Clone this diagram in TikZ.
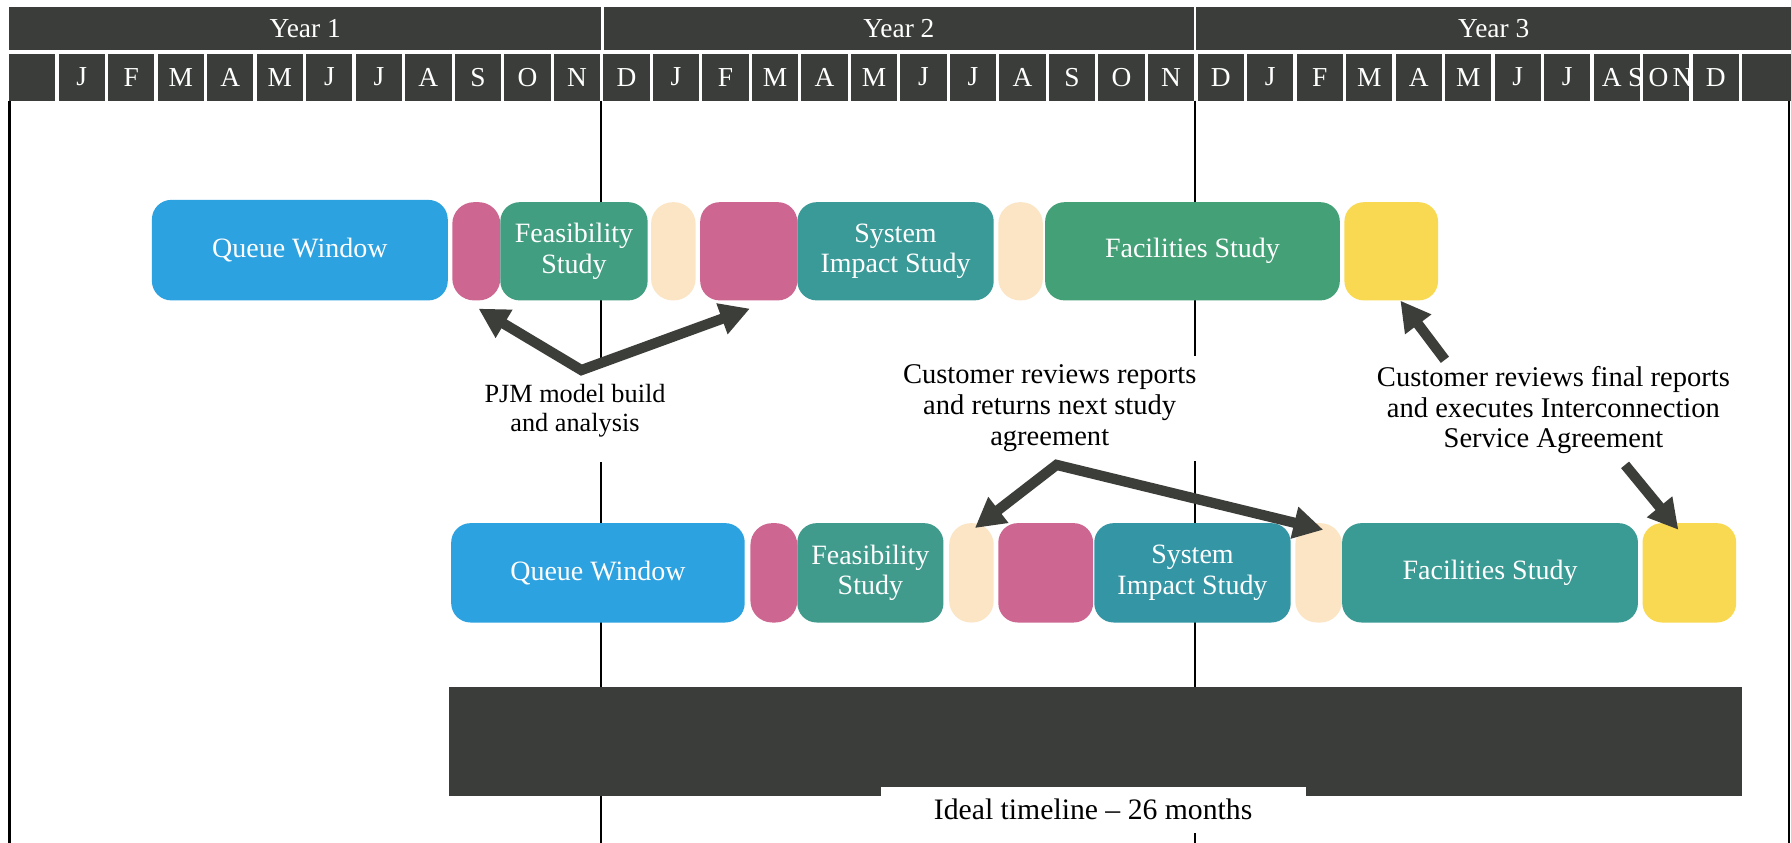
\documentclass[tikz,border=0pt]{standalone}
\usepackage{fontspec}
\setmainfont{Liberation Serif}
\usetikzlibrary{arrows.meta,calc}
\definecolor{hdr}{RGB}{58,61,57}
\definecolor{arrowc}{RGB}{60,62,58}
\definecolor{qblue}{RGB}{44,162,225}
\definecolor{pinkc}{RGB}{205,103,146}
\definecolor{feas}{RGB}{66,158,128}
\definecolor{sysi}{RGB}{58,154,152}
\definecolor{faci}{RGB}{68,160,118}
\definecolor{feasb}{RGB}{64,155,140}
\definecolor{sysib}{RGB}{52,150,165}
\definecolor{facib}{RGB}{58,155,148}
\definecolor{peach}{RGB}{251,229,196}
\definecolor{yell}{RGB}{249,217,82}
\begin{document}
\begin{tikzpicture}[x=1pt,y=-1pt,
  yearbox/.style={fill=hdr, text=white, minimum height=38pt, inner sep=0pt, font=\fontsize{24}{28}\selectfont},
  monthbox/.style={fill=hdr, text=white, minimum height=41pt, minimum width=40.5pt, inner sep=0pt, font=\fontsize{24}{28}\selectfont},
  monthtxt/.style={text=white, inner sep=0pt, font=\fontsize{24}{28}\selectfont},
  phase/.style={rounded corners=17pt, minimum height=86pt, inner sep=0pt, text=white, align=center, font=\fontsize{24.5}{27}\selectfont},
  narrow/.style={phase, rounded corners=19pt},
  lbl/.style={fill=white, align=center, inner xsep=3pt, inner ysep=0pt, font=\fontsize{25}{27}\selectfont},
  bigarrow/.style={draw=arrowc, line width=9pt, line join=miter, >={Triangle[length=26pt,width=27pt]}},
  vline/.style={draw=black, line width=1.6pt}
]
\useasboundingbox (0,0) rectangle (1568,738);
\fill[white] (0,0) rectangle (1568,738);

% vertical guide lines
\draw[vline, line width=2.4pt] (8,88) -- (8,738);
\draw[vline] (526,88) -- (526,738);
\draw[vline] (1046,88) -- (1046,738);
\draw[vline] (1566,88) -- (1566,738);

% year header
\node[yearbox, minimum width=518.5pt] (y1) at (267.25,25) {Year 1};
\node[yearbox, minimum width=517pt] (y2) at (787,25) {Year 2};
\node[yearbox, minimum width=520.5pt] (y3) at (1307.75,25) {Year 3};

% month cells
\foreach \t [count=\k from 0] in {{},J,F,M,A,M,J,J,A,S,O,N,D,J,F,M,A,M,J,J,A,S,O,N,D,J,F,M,A,M,J,J,{},{},D}
  \node[monthbox] (m\k) at ({8+43.35*\k+20.25},67.5) {\t};
\node[monthbox, minimum width=42.7pt] (m35) at (1546.65,67.5) {};
\node[monthtxt] (tA) at (1411,67.5) {A};
\node[monthtxt] (tS) at (1432,67.5) {S};
\node[monthtxt] (tO) at (1452,67.5) {O};
\node[monthtxt] (tN) at (1473,67.5) {N};

% top row of phases
\node[phase, fill=qblue, minimum width=259pt, minimum height=88pt] (qw1) at (262.5,219) {Queue Window};
\node[narrow, fill=pinkc, minimum width=42pt] (pk1a) at (417,220) {};
\node[phase, fill=feas, minimum width=129pt] (fs1) at (502.5,220) {Feasibility\\Study};
\node[narrow, fill=peach, minimum width=39pt] (pe1a) at (589.5,220) {};
\node[phase, fill=pinkc, minimum width=85pt] (pk1b) at (655.5,220) {};
\node[phase, fill=sysi, minimum width=172pt] (si1) at (784,220) {System\\Impact Study};
\node[narrow, fill=peach, minimum width=39pt] (pe1b) at (893.5,220) {};
\node[phase, fill=faci, minimum width=258pt] (fa1) at (1044,220) {Facilities Study};
\node[phase, fill=yell, minimum width=82pt] (ye1) at (1218,220) {};

% bottom row of phases
\node[phase, fill=qblue, minimum width=257pt, minimum height=87pt] (qw2) at (523.5,501.5) {Queue Window};
\node[narrow, fill=pinkc, minimum width=41pt, minimum height=87pt] (pk2a) at (677.5,501.5) {};
\node[phase, fill=feasb, minimum width=128pt, minimum height=87pt] (fs2) at (762,501.5) {Feasibility\\Study};
\node[narrow, fill=peach, minimum width=39pt, minimum height=87pt] (pe2a) at (850.5,501.5) {};
\node[phase, fill=pinkc, minimum width=83pt, minimum height=87pt] (pk2b) at (915.5,501.5) {};
\node[phase, fill=sysib, minimum width=172pt, minimum height=87pt] (si2) at (1044,501.5) {System\\Impact Study};
\node[narrow, fill=peach, minimum width=41pt, minimum height=87pt] (pe2b) at (1154.5,501.5) {};
\node[phase, fill=facib, minimum width=259pt, minimum height=87pt] (fa2) at (1304.5,501.5) {Facilities Study};
\node[phase, fill=yell, minimum width=82pt, minimum height=87pt] (ye2) at (1479,501.5) {};

% labels
\node[lbl, minimum height=90pt, font=\fontsize{23}{25.5}\selectfont] (lab1) at (503.4,359.7) {PJM model build\\and analysis};
\node[lbl, minimum height=92pt] (lab2) at (919,357.5) {Customer reviews reports\\and returns next study\\agreement};
\node[lbl] (lab3) at (1360,359) {Customer reviews final reports\\and executes Interconnection\\Service Agreement};

% bottom bar and caption
\node[fill=hdr, minimum width=1132pt, minimum height=95.5pt, inner sep=0pt] (bar) at (959,649.25) {};
\node[fill=white, minimum width=372pt, minimum height=40pt, inner sep=0pt, font=\fontsize{26}{28}\selectfont] (ideal) at (957,709) {Ideal timeline – 26 months};

% arrows
\coordinate (jA) at (509,324);
\draw[bigarrow, <->] ($(pk1a.south)+(2,7)$) -- (jA) -- ($(pk1b.south)+(1,7)$);
\coordinate (jB) at (925,407);
\draw[bigarrow, <->] ($(pe2a.north)+(3,4.5)$) -- (jB) -- ($(pe2b.north)+(4,6)$);
\coordinate (t3) at (1265,315);
\draw[bigarrow, ->] (t3) -- ($(ye1.south)+(8,0)$);
\coordinate (t4) at (1422.7,407);
\draw[bigarrow, ->] (t4) -- ($(ye2.north)+(-9.6,6)$);
\end{tikzpicture}
\end{document}
